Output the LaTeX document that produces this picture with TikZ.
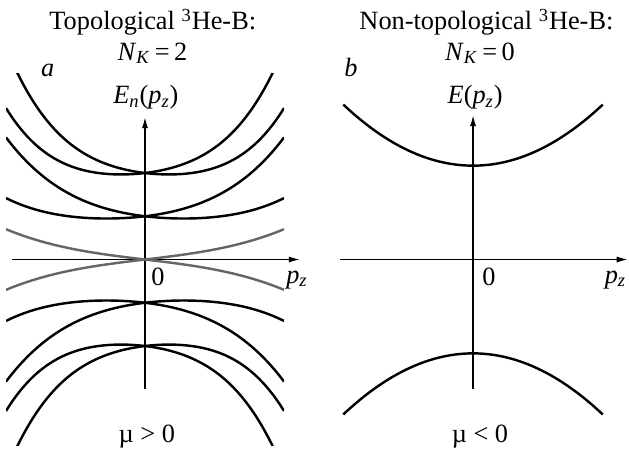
\documentclass[tikz,border=0pt]{standalone}
\usepackage{fontspec}
\setmainfont{Liberation Serif}
\usetikzlibrary{arrows.meta}

\begin{document}
\begin{tikzpicture}[
    x=0.75cm, y=0.75cm,
    every node/.style={inner sep=0pt, anchor=base, font=\fontsize{13}{15}\selectfont},
    axis/.style={line width=0.75pt, -{Latex[length=5.5pt,width=3pt]}},
    level/.style={line width=1.2pt, smooth, samples=80},
    midgap/.style={level, draw=black!60}
  ]
  \useasboundingbox (-3.353,-4.451) rectangle (11.19,6.0);

  % (a) topological phase
  \node (titleA) at (0.18,5.31) {Topological \textsuperscript{3}He-B:};
  \node (nkA) at (0.17,4.61) {\textit{N}\textsubscript{\textit{K}}\,=\,2};
  \node (tagA) at (-2.25,4.22) {\textit{a}};
  \node (ylabA) at (0.02,3.6) {\textit{E}\textsubscript{\textit{n}}(\textit{p}\textsubscript{\textit{z}})};
  \node (zeroA) at (0.3,-0.59) {0};
  \node[anchor=base east] (xlabA) at (3.77,-0.55) {\textit{p}\textsubscript{\textit{z}}};
  \node (muA) at (0.04,-4.22) {\textmu\ {>}\ 0};

  \draw[axis] (-3.075,0) -- (3.584,0);
  \draw[axis] (0,-2.99) -- (0,3.295);

  \begin{scope}
    \clip (-3.214,-4.29) rectangle (3.214,4.29);
    \foreach \ud in {1,-1} {
      \foreach \lr in {1,-1} {
        \draw[level] plot[domain=-3.214:3.214]
          (\x, {\ud*(2 + 0.11*\x*\x + 0.01*\x*\x*\x*\x + \lr*(0.12*\x + 0.0095*\x*\x*\x))});
        \draw[level] plot[domain=-3.214:3.214]
          (\x, {\ud*(1 + 0.0746*\x*\x + 0.0033*\x*\x*\x*\x + \lr*(0.12*\x + 0.0095*\x*\x*\x))});
      }
      \draw[midgap] plot[domain=-3.214:3.214] (\x, {\ud*(0.12*\x + 0.0095*\x*\x*\x)});
    }
  \end{scope}

  % (b) non-topological phase
  \begin{scope}[shift={(7.584,0)}]
    \node (titleB) at (0.31,5.31) {Non-topological \textsuperscript{3}He-B:};
    \node (nkB) at (0.16,4.61) {\textit{N}\textsubscript{\textit{K}}\,=\,0};
    \node (tagB) at (-2.82,4.22) {\textit{b}};
    \node (ylabB) at (0.05,3.6) {\textit{E}(\textit{p}\textsubscript{\textit{z}})};
    \node (zeroB) at (0.37,-0.59) {0};
    \node[anchor=base east] (xlabB) at (3.55,-0.55) {\textit{p}\textsubscript{\textit{z}}};
    \node (muB) at (0.16,-4.22) {\textmu\ {<}\ 0};

    \draw[axis] (-3.076,0) -- (3.58,0);
    \draw[axis] (0,-2.99) -- (0,3.34);

    \draw[level] plot[domain=-3:3] (\x, {2.17 + 0.157*\x*\x});
    \draw[level] plot[domain=-3:3] (\x, {-2.17 - 0.157*\x*\x});
  \end{scope}
\end{tikzpicture}
\end{document}
